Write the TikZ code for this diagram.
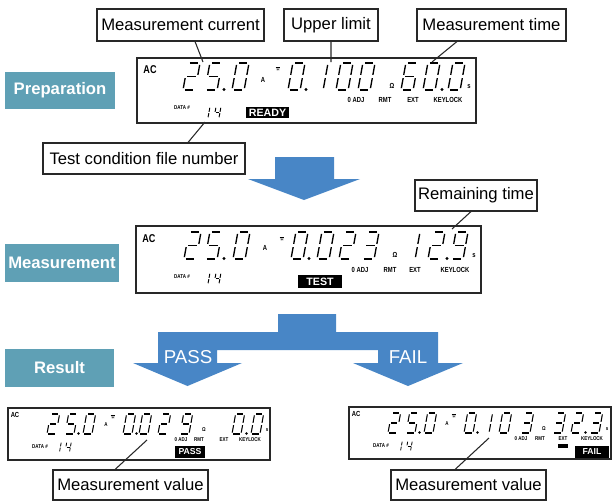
\documentclass[tikz,border=0pt]{standalone}
\usepackage{fontspec}
\setmainfont{Liberation Sans}
\newfontfamily\lcdfont[FakeStretch=0.8]{Liberation Sans}
\usetikzlibrary{positioning}

\definecolor{stagebg}{RGB}{95,160,181}
\definecolor{flowblue}{RGB}{72,134,198}
\definecolor{frame}{RGB}{40,40,40}

\tikzset{lcdseg/.style={line width=1pt}}
% seven segment pieces, digit cell 0.9 wide and 2 high (y up is negative)
\newcommand{\segA}{\draw[lcdseg] (0.14,-2) -- (0.76,-2);}
\newcommand{\segB}{\draw[lcdseg] (0.9,-1.86) -- (0.9,-1.12);}
\newcommand{\segC}{\draw[lcdseg] (0.9,-0.88) -- (0.9,-0.14);}
\newcommand{\segD}{\draw[lcdseg] (0.14,0) -- (0.76,0);}
\newcommand{\segE}{\draw[lcdseg] (0,-0.88) -- (0,-0.14);}
\newcommand{\segF}{\draw[lcdseg] (0,-1.86) -- (0,-1.12);}
\newcommand{\segG}{\draw[lcdseg] (0.14,-1) -- (0.76,-1);}
\newcommand{\lcddigit}[4][1pt]{%
  \begin{scope}[shift={#2},xslant=0.18,scale=#3,lcdseg/.append style={line width=#1}]
    \ifcase#4\relax \segA\segB\segC\segD\segE\segF
    \or \segB\segC
    \or \segA\segB\segG\segE\segD
    \or \segA\segB\segG\segC\segD
    \or \segF\segG\segB\segC
    \or \segA\segF\segG\segC\segD
    \or \segA\segF\segG\segE\segD\segC
    \or \segA\segB\segC
    \or \segA\segB\segC\segD\segE\segF\segG
    \or \segA\segB\segC\segD\segF\segG
    \fi
  \end{scope}}

\begin{document}
\begin{tikzpicture}[x=0.75pt,y=-0.75pt,
    callout/.style={draw=frame,line width=0.8pt,fill=white,inner sep=0pt,
      minimum height=24pt,font=\fontsize{12.5}{14}\selectfont},
    stage/.style={fill=stagebg,text=white,inner sep=0pt,
      font=\fontsize{12.5}{14}\selectfont\bfseries},
    lcd/.style={draw=frame,line width=1.5pt,fill=white},
    leader/.style={draw=frame,line width=0.8pt},
    lcdbig/.style={inner sep=0pt,font=\lcdfont\bfseries\fontsize{8.5}{9}\selectfont},
    lcdsmall/.style={inner sep=0pt,font=\lcdfont\bfseries\fontsize{5.5}{6}\selectfont},
    lcdtiny/.style={inner sep=0pt,font=\lcdfont\bfseries\fontsize{4.2}{5}\selectfont},
    badge/.style={fill=black,text=white,inner sep=0pt,
      font=\bfseries\fontsize{8}{8}\selectfont},
    flowtext/.style={text=white,inner sep=0pt,font=\fontsize{14}{14}\selectfont}]
  \useasboundingbox (0,0) rectangle (614,501);

  % stage labels
  \node[stage,minimum width=82.5pt,minimum height=27.75pt] (prep) at (60,90.5) {Preparation};
  \node[stage,minimum width=85.5pt,minimum height=28.5pt] (meas) at (62,263) {Measurement};
  \node[stage,minimum width=81.75pt,minimum height=28.5pt] (result) at (59.5,368) {Result};

  % flow arrows
  \fill[flowblue] (275,157) -- (334,157) -- (334,179) -- (360,179) -- (304,200)
    -- (248,179) -- (275,179) -- cycle;
  \fill[flowblue] (278,314) -- (336,314) -- (336,332) -- (438,332) -- (438,363)
    -- (463,363) -- (408,386) -- (353,363) -- (378,363) -- (378,350) -- (217,350)
    -- (217,363) -- (242,363) -- (187.5,386) -- (133,363) -- (158,363)
    -- (158,332) -- (278,332) -- cycle;
  \node[flowtext] (pass) at (188,357) {PASS};
  \node[flowtext] (fail) at (408,357) {FAIL};

  % display 1 : ready
  \draw[lcd] (137,58) rectangle (476,123);
  \foreach \x/\d in {183/2,205/5,232/0,288/0,311/1,336/0,358/0,401/6,423/0,448/0}
    \lcddigit{(\x,90)}{13.5}{\d};
  \foreach \x in {224,306,442} \fill (\x,89.5) circle (1.6);
  \lcddigit[0.7pt]{(203,118)}{5.5}{1};
  \lcddigit[0.7pt]{(214,118)}{5.5}{4};
  \node[lcdbig] (ac1) at (150,70) {AC};
  \node[lcdsmall] (amp1) at (263,80) {A};
  \node[lcdsmall] (cmp1) at (278,69) {$\overline{*}$};
  \node[lcdsmall] (ohm1) at (392,86) {Ω};
  \node[lcdsmall] (sec1) at (469,87) {s};
  \node[lcdtiny] (data1) at (182,108) {DATA \#};
  \node[badge,minimum width=32.25pt,minimum height=8.25pt] (ready) at (267.5,112.5) {READY};
  \node[lcdsmall] (adj1) at (356,100) {0 ADJ};
  \node[lcdsmall] (rmt1) at (385,100) {RMT};
  \node[lcdsmall] (ext1) at (413,100) {EXT};
  \node[lcdsmall] (key1) at (448,100) {KEYLOCK};

  % display 2 : test
  \draw[lcd] (136,226) rectangle (481,293);
  \foreach \x/\d in {184/2,205/5,233/0,291/0,317/0,339/2,362/3,403/1,428/2,451/9}
    \lcddigit{(\x,259)}{13.5}{\d};
  \foreach \x in {224,309,447} \fill (\x,258.5) circle (1.6);
  \lcddigit[0.7pt]{(203,284)}{5.5}{1};
  \lcddigit[0.7pt]{(214,284)}{5.5}{4};
  \node[lcdbig] (ac2) at (149,239) {AC};
  \node[lcdsmall] (amp2) at (265,248) {A};
  \node[lcdsmall] (cmp2) at (282,239) {$\overline{*}$};
  \node[lcdsmall] (ohm2) at (395,255) {Ω};
  \node[lcdsmall] (sec2) at (474,256) {s};
  \node[lcdtiny] (data2) at (182,277) {DATA \#};
  \node[badge,minimum width=33pt,minimum height=9.75pt] (test) at (320,281.5) {TEST};
  \node[lcdsmall] (adj2) at (360,270) {0 ADJ};
  \node[lcdsmall] (rmt2) at (390,270) {RMT};
  \node[lcdsmall] (ext2) at (415,270) {EXT};
  \node[lcdsmall] (key2) at (455,270) {KEYLOCK};

  % display 3 : pass
  \draw[lcd] (8,408) rectangle (270,460);
  \foreach \x/\d in {47/2,65/5,83/0,123/0,139/0,158/2,180/9,232/0,251/0}
    \lcddigit[0.8pt]{(\x,434)}{10}{\d};
  \foreach \x in {78.5,136.5,246.5} \fill (\x,433.5) circle (1.3);
  \lcddigit[0.6pt]{(55,452)}{5}{1};
  \lcddigit[0.6pt]{(65,452)}{5}{4};
  \node[lcdsmall] (ac3) at (15,415) {AC};
  \node[lcdtiny] (amp3) at (106,425) {A};
  \node[lcdtiny] (cmp3) at (113,417) {$\overline{*}$};
  \node[lcdtiny] (ohm3) at (204,430) {Ω};
  \node[lcdtiny] (sec3) at (267,430) {s};
  \node[lcdtiny] (data3) at (40,447) {DATA \#};
  \node[lcdtiny] (adj3) at (181,440) {0 ADJ};
  \node[lcdtiny] (rmt3) at (199,440) {RMT};
  \node[lcdtiny] (ext3) at (224,440) {EXT};
  \node[lcdtiny] (key3) at (250,440) {KEYLOCK};
  \node[badge,font=\bfseries\fontsize{6.5}{7}\selectfont,
    minimum width=22.5pt,minimum height=9pt] (passbadge) at (190,452) {PASS};

  % display 4 : fail
  \draw[lcd] (349,407) rectangle (611,459);
  \foreach \x/\d in {388/2,406/5,424/0,464/0,480/1,499/0,521/3,553/3,571/2,590/3}
    \lcddigit[0.8pt]{(\x,433)}{10}{\d};
  \foreach \x in {419.5,477.5,585.5} \fill (\x,432.5) circle (1.3);
  \lcddigit[0.6pt]{(396,451)}{5}{1};
  \lcddigit[0.6pt]{(406,451)}{5}{4};
  \node[lcdsmall] (ac4) at (356,414) {AC};
  \node[lcdtiny] (amp4) at (447,424) {A};
  \node[lcdtiny] (cmp4) at (454,416) {$\overline{*}$};
  \node[lcdtiny] (ohm4) at (544,429) {Ω};
  \node[lcdtiny] (sec4) at (607,429) {s};
  \node[lcdtiny] (data4) at (381,446) {DATA \#};
  \node[lcdtiny] (adj4) at (521,439) {0 ADJ};
  \node[lcdtiny] (rmt4) at (540,439) {RMT};
  \node[lcdtiny] (ext4) at (563,439) {EXT};
  \fill (558,444) rectangle (568,448);
  \node[lcdtiny] (key4) at (592,439) {KEYLOCK};
  \node[badge,font=\bfseries\fontsize{6.5}{7}\selectfont,
    minimum width=25.5pt,minimum height=9pt] (failbadge) at (592,452) {FAIL};

  % callouts
  \node[callout,minimum width=125.25pt] (mcur) at (180.5,25) {Measurement current};
  \node[callout,minimum width=70.5pt] (ulim) at (331,25) {Upper limit};
  \node[callout,minimum width=111.75pt] (mtime) at (491.5,25) {Measurement time};
  \node[callout,minimum width=151.5pt,minimum height=23.25pt] (tcfile) at (144,158.5) {Test condition file number};
  \node[callout,minimum width=91.5pt,minimum height=23.25pt] (remtime) at (476,195.5) {Remaining time};
  \node[callout,minimum width=116.25pt,minimum height=22.5pt] (mval1) at (130.5,485) {Measurement value};
  \node[callout,minimum width=116.25pt,minimum height=22.5pt] (mval2) at (468.5,485) {Measurement value};

  \coordinate (mcurend) at (203,62);
  \coordinate (ulimend) at (331,62);
  \coordinate (mtimeend) at (432,62);
  \coordinate (tcfileend) at (205,122);
  \coordinate (remtimeend) at (452,229);
  \coordinate (mval1end) at (147,440);
  \coordinate (mval2end) at (489,438);
  \path[leader]
    ([xshift=10.9pt]mcur.south) -- (mcurend)
    (ulim.south) -- (ulimend)
    ([xshift=-25.9pt]mtime.south) -- (mtimeend)
    ([xshift=33pt]tcfile.north) -- (tcfileend)
    ([xshift=-3.75pt]remtime.south) -- (remtimeend)
    ([xshift=-11.6pt]mval1.north) -- (mval1end)
    ([xshift=-10.1pt]mval2.north) -- (mval2end);
\end{tikzpicture}
\end{document}
